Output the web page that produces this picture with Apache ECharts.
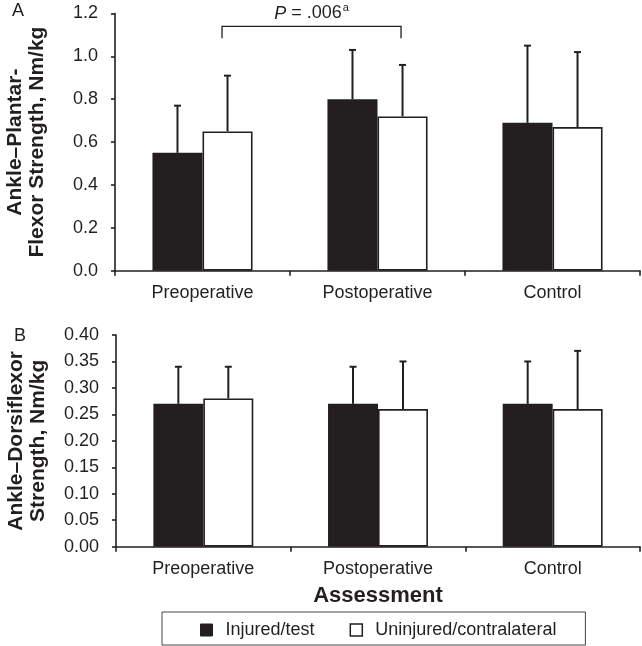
<!DOCTYPE html>
<html>
<head>
<meta charset="utf-8">
<script src="https://cdn.jsdelivr.net/npm/echarts@6/dist/echarts.min.js"></script>
<style>html,body{margin:0;padding:0;background:#fff}#c{width:642px;height:646px}</style>
</head>
<body>
<div id="c"></div>
<script>
const categories = ['Preoperative', 'Postoperative', 'Control'];
const seriesNames = ['Injured/test', 'Uninjured/contralateral'];
// Panel A: ankle plantar-flexor strength (mean, upper end of SD bar)
const plantarInjured = [0.55, 0.80, 0.69];
const plantarInjuredUpper = [0.77, 1.03, 1.05];
const plantarUninjured = [0.65, 0.72, 0.67];
const plantarUninjuredUpper = [0.91, 0.96, 1.02];
// Panel B: ankle dorsiflexor strength
const dorsiInjured = [0.27, 0.27, 0.27];
const dorsiInjuredUpper = [0.34, 0.34, 0.35];
const dorsiUninjured = [0.28, 0.26, 0.26];
const dorsiUninjuredUpper = [0.34, 0.35, 0.37];
// Significance bracket (panel A): between uninjured bars of categories 0 and 1
const bracketCats = [0, 1];
const bracketLevel = 1.14;
const bracketDrop = 1.085;
const bracketTextLevel = 1.2;
const yTicksA = [0, 1.2, 0.2];
const yTicksB = [0, 0.4, 0.05];

const INK = '#231f20';
const FONT = 'Liberation Sans, Arial, Helvetica, sans-serif';
const BARW = 0.286;

function errSeries(name, upper, values, gridIdx, side) {
  return {
    type: 'custom', name: name + ' err', xAxisIndex: gridIdx, yAxisIndex: gridIdx,
    z: 5, silent: true,
    data: values.map((v, i) => [i, v, upper[i]]),
    renderItem: function (params, api) {
      const bw = api.size([1, 0])[0];
      const off = side * bw * BARW / 2;
      const p0 = api.coord([api.value(0), api.value(1)]);
      const p1 = api.coord([api.value(0), api.value(2)]);
      const x = p0[0] + off;
      const cap = 3.5;
      return {
        type: 'group',
        children: [
          { type: 'line', shape: { x1: x, y1: p0[1], x2: x, y2: p1[1] }, style: { stroke: INK, lineWidth: 2 } },
          { type: 'line', shape: { x1: x - cap, y1: p1[1], x2: x + cap, y2: p1[1] }, style: { stroke: INK, lineWidth: 2 } }
        ]
      };
    }
  };
}

function barSeries(name, values, gridIdx, fill) {
  return {
    type: 'bar', name: name, xAxisIndex: gridIdx, yAxisIndex: gridIdx,
    data: values, barWidth: (BARW * 100) + '%', barGap: '0%',
    itemStyle: { color: fill, borderColor: INK, borderWidth: 1.6 },
    emphasis: { disabled: true }
  };
}

const bracketSeries = {
  type: 'custom', xAxisIndex: 0, yAxisIndex: 0, silent: true, z: 6,
  clip: false,
  data: [[bracketCats[0], bracketCats[1], bracketLevel, bracketDrop, bracketTextLevel]],
  renderItem: function (params, api) {
    const bw = api.size([1, 0])[0];
    const off = bw * BARW / 2;
    const a = api.coord([api.value(0), api.value(2)]);
    const b = api.coord([api.value(1), api.value(2)]);
    const yd = api.coord([api.value(0), api.value(3)])[1];
    const yt = api.coord([api.value(0), api.value(4)])[1];
    const x1 = a[0] + off - 5.5, x2 = b[0] + off - 1.5;
    return {
      type: 'group',
      children: [
        { type: 'polyline', shape: { points: [[x1, yd], [x1, a[1]], [x2, a[1]], [x2, yd]] }, style: { stroke: INK, lineWidth: 1.3, fill: null } },
        { type: 'text', x: (x1 + x2) / 2, y: yt, style: {
            text: '{i|P} = .006{s|a}', align: 'center', verticalAlign: 'middle',
            fill: INK, font: '18px ' + FONT,
            rich: { i: { fontStyle: 'italic', fontSize: 18, fontFamily: FONT, fill: INK },
                    s: { fontSize: 11, fontFamily: FONT, fill: INK, verticalAlign: 'top', padding: [0, 0, 12, 1] } }
          } }
      ]
    };
  }
};

function yAxis(gridIdx, ticks, dec, nameText) {
  return {
    type: 'value', gridIndex: gridIdx, min: ticks[0], max: ticks[1], interval: ticks[2],
    axisLine: { show: true, lineStyle: { color: INK, width: 1.6 } },
    axisTick: { show: true, length: 4, lineStyle: { color: INK, width: 1.6 } },
    splitLine: { show: false },
    axisLabel: { formatter: v => v.toFixed(dec), fontSize: 18, color: INK, fontFamily: FONT, margin: 17 },
    name: nameText, nameLocation: 'middle', nameGap: 67,
    nameTextStyle: { fontSize: 21, fontWeight: 'bold', color: INK, fontFamily: FONT, lineHeight: 22 }
  };
}

function xAxis(gridIdx, withName) {
  const ax = {
    type: 'category', gridIndex: gridIdx, data: categories,
    axisLine: { lineStyle: { color: INK, width: 1.6 } },
    axisTick: { show: true, length: 5, lineStyle: { color: INK, width: 1.6 } },
    axisLabel: { fontSize: 18, color: INK, fontFamily: FONT, margin: 13 }
  };
  if (withName) {
    ax.name = 'Assessment'; ax.nameLocation = 'middle'; ax.nameGap = 38;
    ax.nameTextStyle = { fontSize: 22, fontWeight: 'bold', color: INK, fontFamily: FONT };
  }
  return ax;
}

const chart = echarts.init(document.getElementById('c'), null, { renderer: 'canvas' });
chart.setOption({
  animation: false,
  backgroundColor: '#fff',
  textStyle: { fontFamily: FONT },
  title: [
    { text: 'A', left: 7, top: -3, textStyle: { fontSize: 18, fontWeight: 'normal', color: INK, fontFamily: FONT } },
    { text: 'B', left: 9, top: 322, textStyle: { fontSize: 18, fontWeight: 'normal', color: INK, fontFamily: FONT } }
  ],
  grid: [
    { left: 115, right: 2, top: 13.5, height: 257.2, containLabel: false, outerBoundsMode: 'none' },
    { left: 116, right: 2, top: 335, height: 211.7, containLabel: false, outerBoundsMode: 'none' }
  ],
  xAxis: [xAxis(0, false), xAxis(1, true)],
  yAxis: [
    yAxis(0, yTicksA, 1, 'Ankle\u2013Plantar-\nFlexor Strength, Nm/kg'),
    yAxis(1, yTicksB, 2, 'Ankle\u2013Dorsiflexor\nStrength, Nm/kg')
  ],
  legend: {
    left: 162, top: 612,
    orient: 'horizontal',
    itemWidth: 12, itemHeight: 12, itemGap: 35,
    padding: [9, 29, 6, 38],
    borderColor: '#444', borderWidth: 1,
    textStyle: { fontSize: 18, color: INK, fontFamily: FONT, padding: [0, 0, 0, 8] },
    data: [
      { name: seriesNames[0], icon: 'rect', itemStyle: { color: INK, borderColor: INK, borderWidth: 1 } },
      { name: seriesNames[1], icon: 'rect', itemStyle: { color: '#fff', borderColor: INK, borderWidth: 1.5 } }
    ],
    selectedMode: false
  },
  series: [
    barSeries(seriesNames[0], plantarInjured, 0, INK),
    barSeries(seriesNames[1], plantarUninjured, 0, '#fff'),
    errSeries(seriesNames[0], plantarInjuredUpper, plantarInjured, 0, -1),
    errSeries(seriesNames[1], plantarUninjuredUpper, plantarUninjured, 0, 1),
    bracketSeries,
    barSeries(seriesNames[0], dorsiInjured, 1, INK),
    barSeries(seriesNames[1], dorsiUninjured, 1, '#fff'),
    errSeries(seriesNames[0], dorsiInjuredUpper, dorsiInjured, 1, -1),
    errSeries(seriesNames[1], dorsiUninjuredUpper, dorsiUninjured, 1, 1)
  ]
});
</script>
</body>
</html>
